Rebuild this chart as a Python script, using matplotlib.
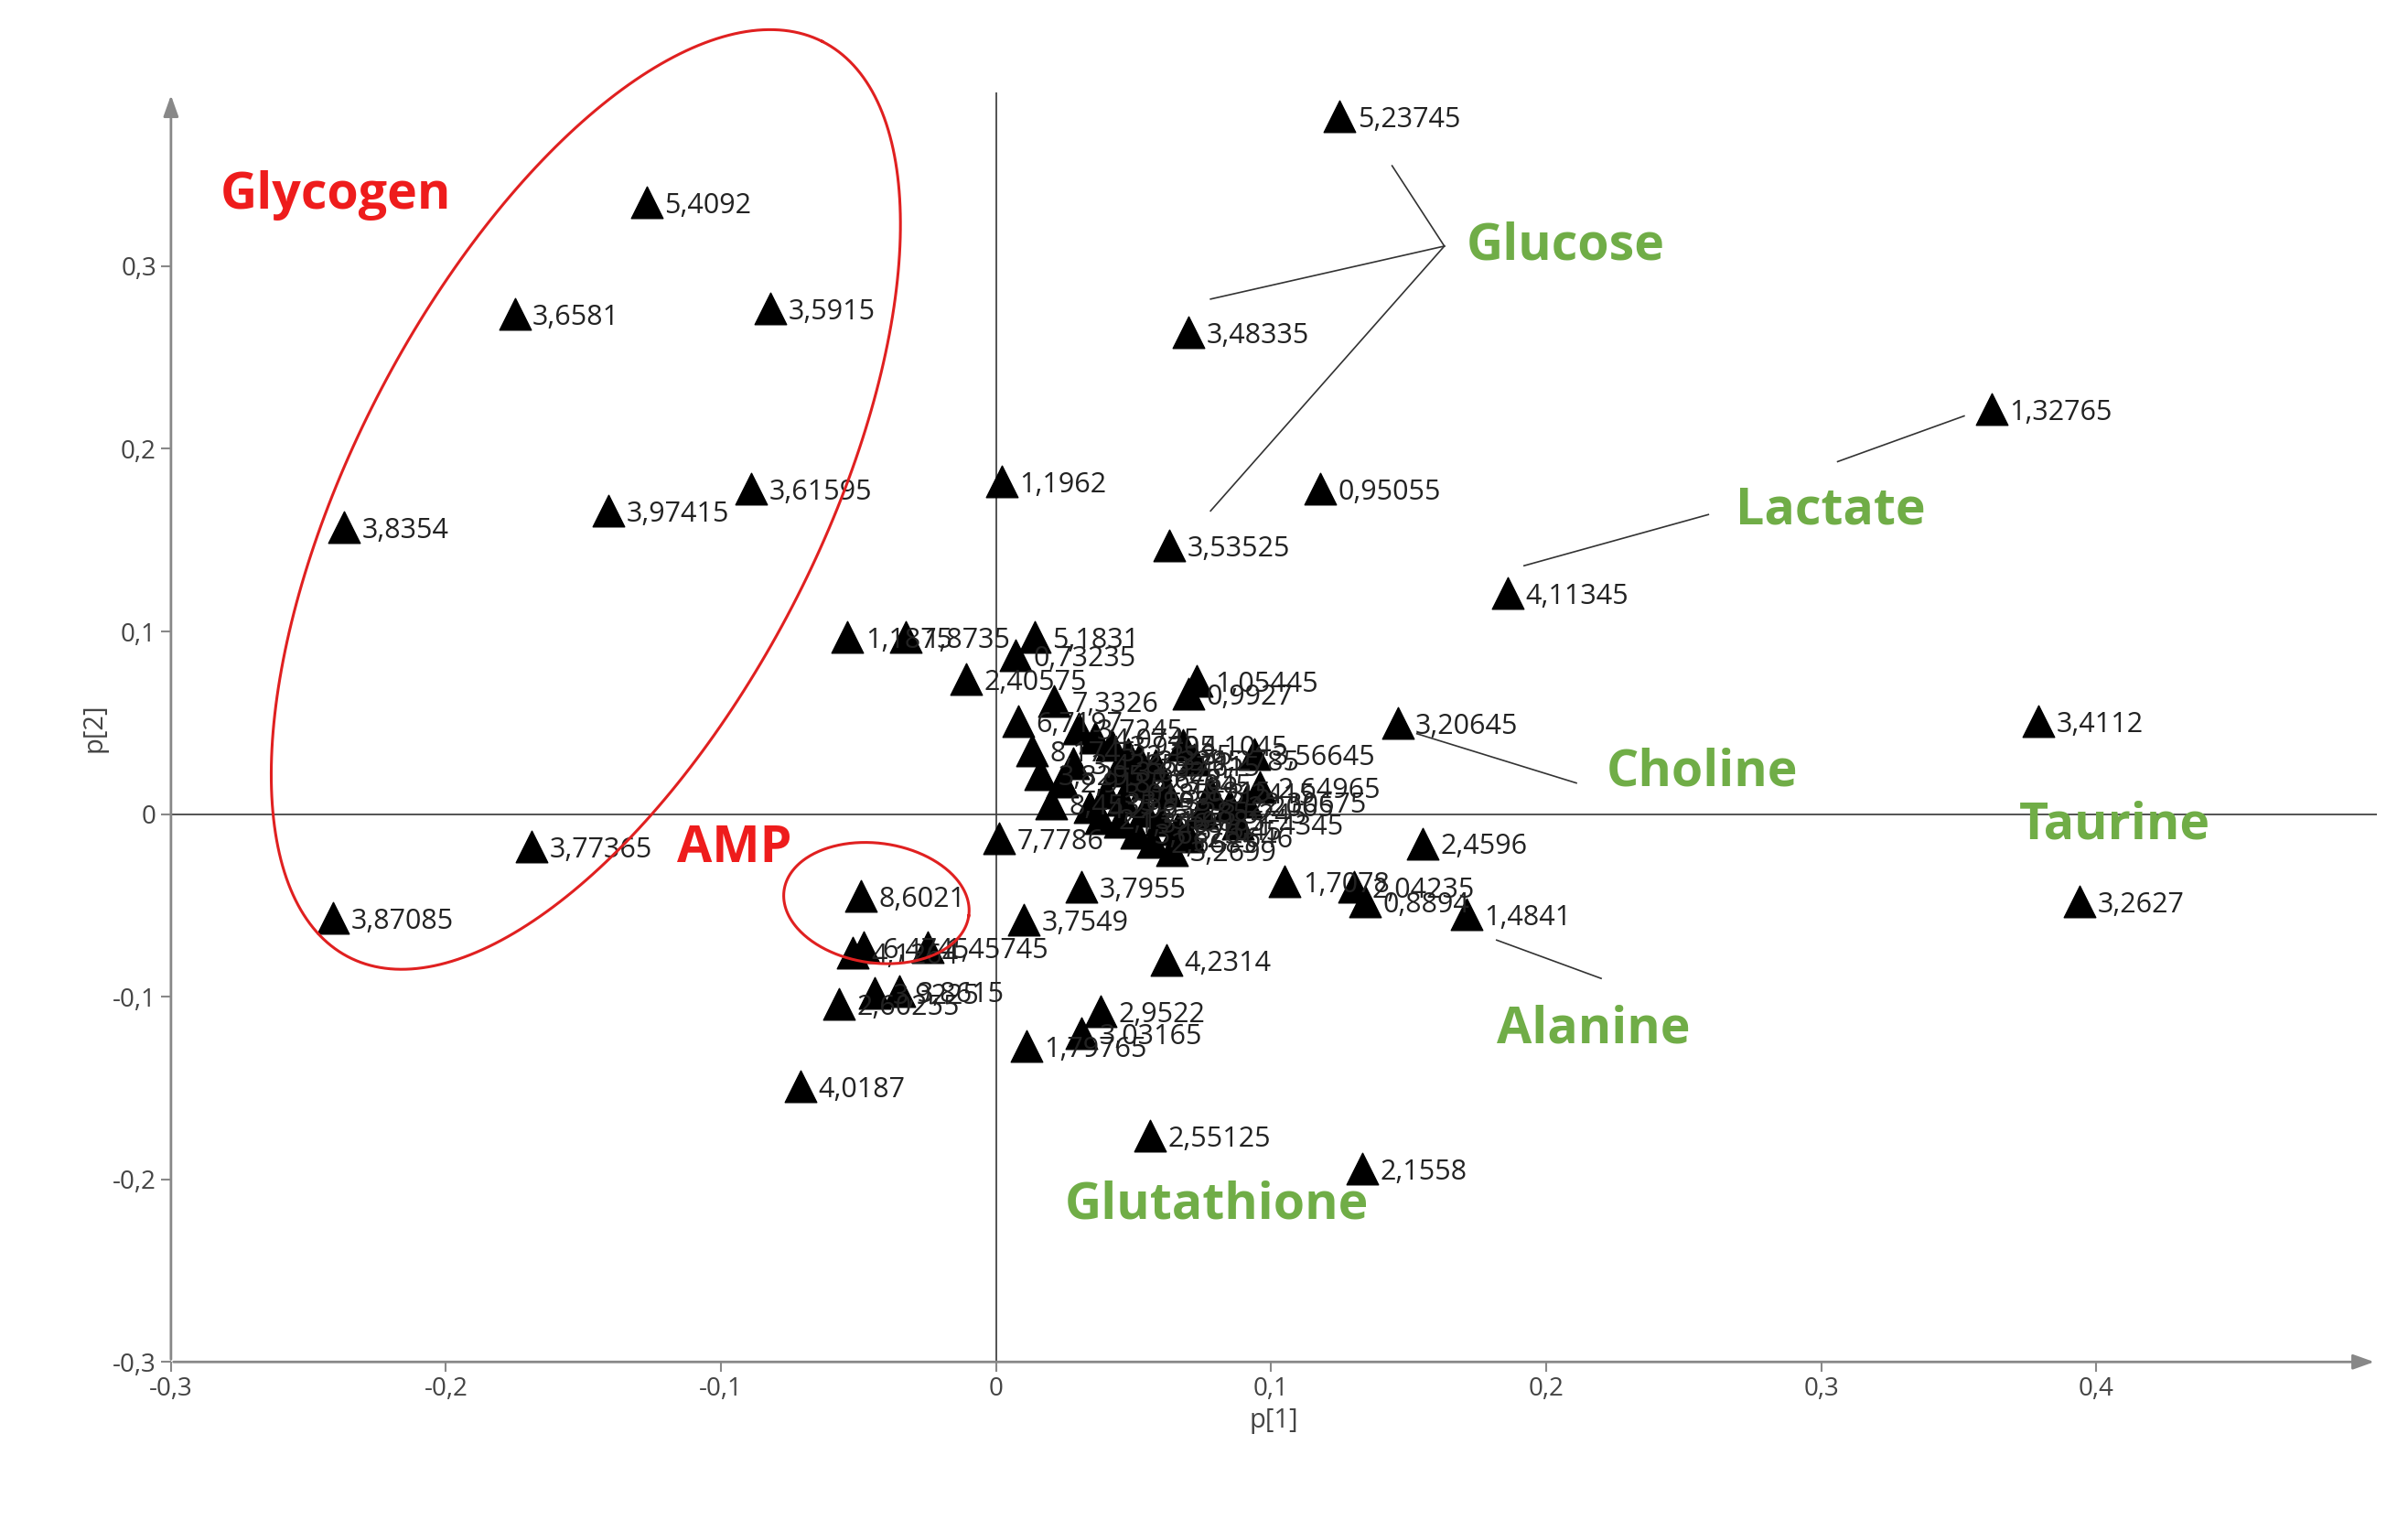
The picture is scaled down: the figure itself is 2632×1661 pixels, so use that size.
import numpy as np
import matplotlib
matplotlib.use("Agg")
import matplotlib.pyplot as plt

plt.rcParams["font.family"] = "Open Sans"

# loadings p[1], p[2] and ppm labels
labels = ["5,23745", "5,4092", "3,6581", "3,5915", "3,48335", "1,32765", "1,1962",
          "0,95055", "3,61595", "3,97415", "3,8354", "3,53525", "4,11345", "1,1875",
          "1,8735", "5,1831", "0,73235", "2,40575", "1,05445", "0,9927", "7,3326",
          "6,7197", "3,20645", "3,4112", "3,56645", "2,64965", "2,30675", "7,7786",
          "3,77365", "2,4596", "3,87085", "3,2627", "8,6021", "1,7078", "2,04235",
          "0,8894", "1,4841", "3,7549", "4,1264", "6,4745", "1,45745", "4,2314",
          "3,9225", "3,8615", "2,60255", "2,9522", "3,03165", "1,79765", "4,0187",
          "2,55125", "2,1558",
          # dense cluster
          "3,7245", "4,0745", "3,9305", "2,1285", "3,3295", "3,7615", "8,1745",
          "3,8295", "2,9185", "3,4285", "3,6925", "2,6785", "2,7045", "3,8915",
          "4,1045", "1,2785", "3,2415", "2,2065", "3,9985", "3,0185", "4,2965",
          "2,2285", "1,9085", "3,1045", "2,2646", "1,4345", "3,2699", "2,6685",
          "3,6875", "1,3265", "2,1335", "3,7955", "8,4535", "3,5245"]
p1 = [0.125, -0.127, -0.175, -0.082, 0.070, 0.362, 0.002,
      0.118, -0.089, -0.141, -0.237, 0.063, 0.186, -0.054,
      -0.033, 0.014, 0.007, -0.011, 0.073, 0.070, 0.021,
      0.008, 0.146, 0.379, 0.094, 0.096, 0.091, 0.001,
      -0.169, 0.155, -0.241, 0.394, -0.049, 0.105, 0.130,
      0.134, 0.171, 0.010, -0.052, -0.048, -0.025, 0.062,
      -0.044, -0.035, -0.057, 0.038, 0.031, 0.011, -0.071,
      0.056, 0.133,
      0.030, 0.036, 0.042, 0.048, 0.052, 0.058, 0.013,
      0.016, 0.024, 0.028, 0.044, 0.050, 0.055, 0.062,
      0.068, 0.072, 0.078, 0.085, 0.046, 0.040, 0.034,
      0.054, 0.060, 0.066, 0.070, 0.088, 0.064, 0.057,
      0.051, 0.045, 0.038, 0.031, 0.020, 0.075]
p2 = [0.382, 0.335, 0.274, 0.277, 0.264, 0.222, 0.182,
      0.178, 0.178, 0.166, 0.157, 0.147, 0.121, 0.097,
      0.097, 0.097, 0.087, 0.074, 0.073, 0.066, 0.062,
      0.051, 0.050, 0.051, 0.033, 0.015, 0.007, -0.013,
      -0.018, -0.016, -0.057, -0.048, -0.045, -0.037, -0.040,
      -0.048, -0.055, -0.058, -0.076, -0.073, -0.073, -0.080,
      -0.098, -0.097, -0.104, -0.108, -0.120, -0.127, -0.149,
      -0.176, -0.194,
      0.047, 0.042, 0.038, 0.033, 0.030, 0.027, 0.035,
      0.022, 0.018, 0.028, 0.024, 0.020, 0.017, 0.013,
      0.038, 0.030, 0.012, 0.005, 0.008, 0.012, 0.004,
      0.002, -0.003, -0.008, -0.012, -0.005, -0.020, -0.015,
      -0.010, -0.004, -0.002, -0.040, 0.006, 0.001]

# annotations: text, x, y, colour
names = ["Glucose", "Lactate", "Choline", "Taurine", "Alanine", "Glutathione", "Glycogen", "AMP"]
name_x = [0.171, 0.269, 0.222, 0.372, 0.182, 0.025, -0.282, -0.116]
name_y = [0.311, 0.166, 0.023, -0.006, -0.118, -0.214, 0.339, -0.019]
name_col = ["#70ad47"] * 6 + ["#ee1c1c"] * 2

# pointer lines (x0, y0, x1, y1)
pointer_lines = [(0.163, 0.311, 0.144, 0.355), (0.163, 0.311, 0.078, 0.282),
                 (0.163, 0.311, 0.078, 0.166), (0.306, 0.193, 0.352, 0.218),
                 (0.192, 0.136, 0.259, 0.164), (0.153, 0.044, 0.211, 0.017),
                 (0.182, -0.069, 0.220, -0.090)]

ticks = [-0.3, -0.2, -0.1, 0, 0.1, 0.2, 0.3, 0.4]
yticks = [-0.3, -0.2, -0.1, 0, 0.1, 0.2, 0.3]


def fmt(v):
    return "0" if abs(v) < 1e-9 else f"{v:.1f}".replace(".", ",")


def ref_px_to_data(px, py):
    # reference picture (display scale) pixel -> data
    return (px - 642) / 1770.0, (530 - py) / 1190.0


fig = plt.figure(figsize=(26.32, 16.61), dpi=100)
ax = fig.add_axes([0.071, 0.104, 0.916, 0.835])
ax.set_xlim(-0.3, 0.502)
ax.set_ylim(-0.3, 0.395)
for s in ax.spines.values():
    s.set_visible(False)

grey = "#888888"
ax.annotate("", xy=(0.502, -0.3), xytext=(-0.3, -0.3),
            arrowprops=dict(arrowstyle="-|>,head_length=1.4,head_width=0.5", color=grey, lw=2))
ax.annotate("", xy=(-0.3, 0.395), xytext=(-0.3, -0.3),
            arrowprops=dict(arrowstyle="-|>,head_length=1.4,head_width=0.5", color=grey, lw=2))
ax.axhline(0, color="#444444", lw=1.3)
ax.axvline(0, color="#444444", lw=1.3)

ax.set_xticks(ticks)
ax.set_xticklabels([fmt(t) for t in ticks])
ax.set_yticks(yticks)
ax.set_yticklabels([fmt(t) for t in yticks])
ax.tick_params(colors=grey, labelcolor="#444444", labelsize=20, length=8, width=1.5)
ax.set_xlabel("p[1]", fontsize=21, color="#444444")
ax.set_ylabel("p[2]", fontsize=21, color="#444444")

ax.scatter(p1, p2, marker="^", s=620, color="black", zorder=3)
for lab, x, y in zip(labels, p1, p2):
    ax.text(x + 0.0065, y - 0.002, lab, fontsize=22, color="#222222", va="center", zorder=4)

for x0, y0, x1, y1 in pointer_lines:
    ax.plot([x0, x1], [y0, y1], color="#333333", lw=1.2)

for n, x, y, c in zip(names, name_x, name_y, name_col):
    ax.text(x, y, n, fontsize=40, fontweight="bold", color=c, va="center", zorder=5)

# ellipses drawn in reference pixel space
t = np.linspace(0, 2 * np.pi, 300)
for cx, cy, a, b, ang in [(378, 325, 335, 150, 63), (565, 588, 60, 39, -8)]:
    th = np.radians(ang)
    ex = cx + a * np.cos(t) * np.cos(th) - b * np.sin(t) * np.sin(th)
    ey = cy - (a * np.cos(t) * np.sin(th) + b * np.sin(t) * np.cos(th))
    dx, dy = ref_px_to_data(ex, ey)
    ax.plot(dx, dy, color="#e02020", lw=2.2, zorder=6, clip_on=False)

fig.savefig("out.png", dpi=100, facecolor="white")
